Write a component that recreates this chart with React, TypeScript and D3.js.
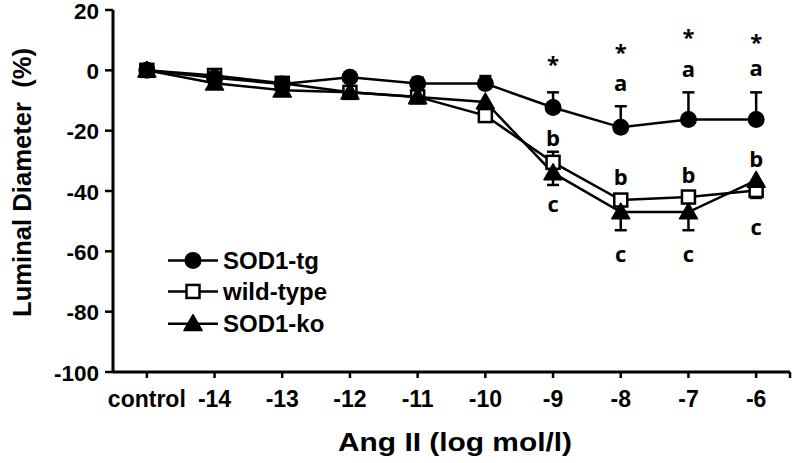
import React from "react";
import * as d3 from "d3";

const categories = ["control", "-14", "-13", "-12", "-11", "-10", "-9", "-8", "-7", "-6"];
const yTicks = [20, 0, -20, -40, -60, -80, -100];

const sod1tg = [0, -2.5, -4.5, -2.3, -4.4, -4.4, -12.3, -18.9, -16.3, -16.3];
const sod1tgErrUp = [0, 0, 0, 0, 2, 2.5, 5, 7, 9, 9];

const wildType = [0, -1.7, -4.3, -7.3, -8.8, -15, -30.5, -43, -42, -39.8];
const wildTypeErrUp = [0, 0, 0, 0, 0, 0, 3.5, 0, 0, 0];
const wildTypeErrDown = [0, 0, 0, 0, 0, 0, 0, 0, 0, 2.5];

const sod1ko = [0, -4.3, -6.6, -7.3, -8.8, -10.5, -34, -47, -47, -36.5];
const sod1koErrDown = [0, 0, 0, 0, 0, 0, 4, 6, 6, 0];

const starIdx = [6, 7, 8, 9];
const starY = [3.3, 7.3, 12.3, 10.6];
const aIdx = [7, 8, 9];
const aY = [-4, 0.7, 1];
const bIdx = [6, 7, 8, 9];
const bY = [-22, -35, -34.5, -29];
const cIdx = [6, 7, 8, 9];
const cY = [-44, -60.5, -60.5, -51.5];

const legendNames = ["SOD1-tg", "wild-type", "SOD1-ko"];

const W = 800;
const H = 463;
const left = 113;
const right = 790;
const top = 10;
const bottom = 372;

const FONT = "'Liberation Sans', Arial, sans-serif";
const AFONT = "'Open Sans', 'Liberation Sans', sans-serif";

function Marker({ type, x, y, fill }: { type: string; x: number; y: number; fill?: string }) {
  if (type === "circle") return <circle cx={x} cy={y} r={8.5} fill="#000" />;
  if (type === "square")
    return <rect x={x - 6.5} y={y - 6.5} width={13} height={13} fill={fill || "#fff"} stroke="#000" strokeWidth={2.5} />;
  const s = 9;
  return <path d={`M${x},${y - s} L${x + s},${y + s * 0.75} L${x - s},${y + s * 0.75} Z`} fill="#000" stroke="#000" strokeWidth={1.5} strokeLinejoin="round" />;
}

export default function App() {
  const x = d3.scalePoint<string>().domain(categories).range([left, right]).padding(0.5);
  const y = d3.scaleLinear().domain([-100, 20]).range([bottom, top]);
  const line = d3
    .line<number>()
    .x((_, i) => x(categories[i]) as number)
    .y((d) => y(d));

  const series = [
    { name: "wild-type", data: wildType, type: "square", up: wildTypeErrUp, down: wildTypeErrDown },
    { name: "SOD1-ko", data: sod1ko, type: "triangle", up: categories.map(() => 0), down: sod1koErrDown },
    { name: "SOD1-tg", data: sod1tg, type: "circle", up: sod1tgErrUp, down: categories.map(() => 0) },
  ];

  const legendTypes = ["circle", "square", "triangle"];
  const legendY = [-63, -73.3, -84];

  const ann = (idx: number[], vals: number[], txt: string, key: string) =>
    idx.map((ci, k) => (
      <text
        key={key + k}
        x={x(categories[ci]) as number}
        y={y(vals[k]) + (txt === "*" ? 3 : 0)}
        textAnchor="middle"
        dominantBaseline="central"
        fontFamily={AFONT}
        fontWeight="bold"
        fontSize={txt === "*" ? 22 : 22}
      >
        {txt}
      </text>
    ));

  return (
    <svg width={W} height={H} style={{ display: "block", position: "absolute", left: 0, top: 0 }}>
      <rect width={W} height={H} fill="#fff" />
      {/* axes */}
      <line x1={left} x2={left} y1={top} y2={bottom} stroke="#000" strokeWidth={3} />
      <line x1={left} x2={right} y1={bottom} y2={bottom} stroke="#000" strokeWidth={3} />
      {yTicks.map((t) => (
        <g key={"yt" + t}>
          <line x1={left - 8} x2={left} y1={y(t)} y2={y(t)} stroke="#000" strokeWidth={2.5} />
          <text x={left - 14} y={y(t) + 1} textAnchor="end" dominantBaseline="central" fontFamily={FONT} fontWeight="bold" fontSize={22.5}>
            {t}
          </text>
        </g>
      ))}
      {categories.map((c) => (
        <g key={"xt" + c}>
          <line x1={x(c) as number} x2={x(c) as number} y1={bottom} y2={bottom + 6} stroke="#000" strokeWidth={2.5} />
          <text x={x(c) as number} y={bottom + 27} textAnchor="middle" dominantBaseline="central" fontFamily={FONT} fontWeight="bold" fontSize={23}>
            {c}
          </text>
        </g>
      ))}
      <line x1={right} x2={right} y1={bottom} y2={bottom + 6} stroke="#000" strokeWidth={2.5} />
      <text x={455} y={442} textAnchor="middle" dominantBaseline="central" fontFamily={FONT} fontWeight="bold" fontSize={26} textLength={234} lengthAdjust="spacingAndGlyphs">
        Ang II (log mol/l)
      </text>
      <text
        transform={`translate(22,${(48 + 317) / 2}) rotate(-90)`}
        textAnchor="middle"
        dominantBaseline="central"
        fontFamily={FONT}
        fontWeight="bold"
        fontSize={25}
        textLength={269}
        lengthAdjust="spacingAndGlyphs"
        style={{ whiteSpace: "pre" }}
      >
        {"Luminal Diameter  (%)"}
      </text>

      {/* error bars */}
      {series.map((s) =>
        s.data.map((v, i) => {
          const cx = x(categories[i]) as number;
          const els = [];
          if (s.up[i] > 0) {
            els.push(
              <g key={s.name + "u" + i}>
                <line x1={cx} x2={cx} y1={y(v)} y2={y(v + s.up[i])} stroke="#000" strokeWidth={2.5} />
                <line x1={cx - 6} x2={cx + 6} y1={y(v + s.up[i])} y2={y(v + s.up[i])} stroke="#000" strokeWidth={2.5} />
              </g>
            );
          }
          if (s.down[i] > 0) {
            els.push(
              <g key={s.name + "d" + i}>
                <line x1={cx} x2={cx} y1={y(v)} y2={y(v - s.down[i])} stroke="#000" strokeWidth={2.5} />
                <line x1={cx - 6} x2={cx + 6} y1={y(v - s.down[i])} y2={y(v - s.down[i])} stroke="#000" strokeWidth={2.5} />
              </g>
            );
          }
          return els;
        })
      )}

      {/* lines */}
      {series.map((s) => (
        <path key={"l" + s.name} d={line(s.data) || ""} fill="none" stroke="#000" strokeWidth={2.5} />
      ))}
      {/* markers */}
      {series.map((s) =>
        s.data.map((v, i) => (
          <Marker key={s.name + "m" + i} type={s.type} x={x(categories[i]) as number} y={y(v)} fill={i === 0 ? "#000" : "#fff"} />
        ))
      )}

      {/* annotations */}
      {ann(starIdx, starY, "*", "s")}
      {ann(aIdx, aY, "a", "a")}
      {ann(bIdx, bY, "b", "b")}
      {ann(cIdx, cY, "c", "c")}

      {/* legend */}
      {legendNames.map((n, k) => (
        <g key={"lg" + n}>
          <line x1={168} x2={218} y1={y(legendY[k])} y2={y(legendY[k])} stroke="#000" strokeWidth={2.5} />
          <Marker type={legendTypes[k]} x={193} y={y(legendY[k])} />
          <text x={223} y={y(legendY[k])} dominantBaseline="central" fontFamily={FONT} fontWeight="bold" fontSize={24}>
            {n}
          </text>
        </g>
      ))}
    </svg>
  );
}
